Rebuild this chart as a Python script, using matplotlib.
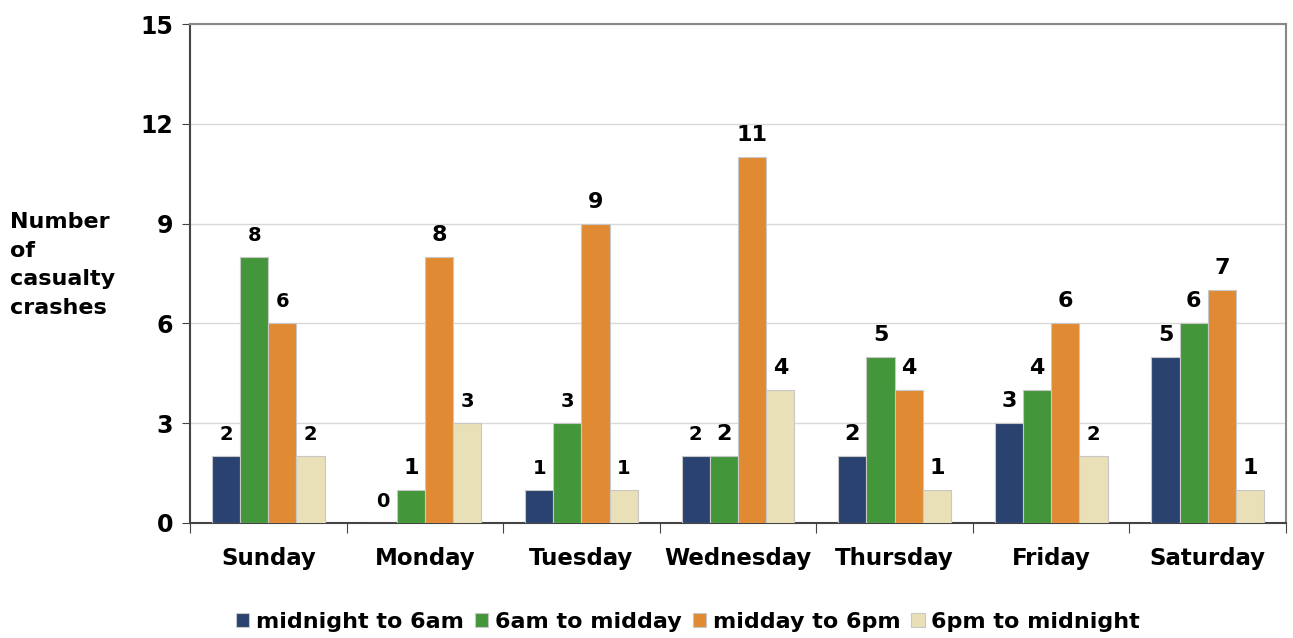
import numpy as np
import matplotlib.pyplot as plt

days = ['Sunday', 'Monday', 'Tuesday', 'Wednesday', 'Thursday', 'Friday', 'Saturday']
series = ['midnight to 6am', '6am to midday', 'midday to 6pm', '6pm to midnight']
night = [2, 0, 1, 2, 2, 3, 5]
morning = [8, 1, 3, 2, 5, 4, 6]
afternoon = [6, 8, 9, 11, 4, 6, 7]
evening = [2, 3, 1, 4, 1, 2, 1]
# some labels were drawn bigger in the original
big = [[0, 0, 0, 0, 1, 1, 1],
       [0, 1, 0, 1, 1, 1, 1],
       [0, 1, 1, 1, 1, 1, 1],
       [0, 0, 0, 1, 1, 0, 1]]

colors = ['#2a4270', '#43973a', '#e08a33', '#e9e0b8']

plt.rcParams['font.family'] = ['DejaVu Sans']
plt.rcParams['font.weight'] = 'bold'

fig = plt.figure(figsize=(12.93, 6.38), dpi=100)
ax = fig.add_axes([190/1293, 1-523/638, (1286-190)/1293, (523-24)/638])

x = np.arange(len(days))
w = 0.18
for k, vals in enumerate([night, morning, afternoon, evening]):
    pos = x + (k - 1.5) * w
    ax.bar(pos, vals, w, color=colors[k], edgecolor='#c8c8c8', linewidth=0.8,
           label=series[k], zorder=3)
    for p, v, b in zip(pos, vals, big[k]):
        ax.text(p, v + 0.48, str(v), ha='center', va='baseline',
                fontsize=16 if b else 14, fontweight='bold')

ax.set_xlim(-0.5, 6.5)
ax.set_ylim(0, 15)
ax.set_yticks([0, 3, 6, 9, 12, 15])
ax.yaxis.grid(True, color='#d9d9d9', linewidth=1, zorder=0)
ax.tick_params(axis='y', labelsize=17, length=6, color='#444444', pad=6)
ax.set_xticks(np.arange(-0.5, 7, 1))
ax.set_xticklabels([])
ax.set_xticks(x, minor=True)
ax.set_xticklabels(days, minor=True, fontsize=16.5, fontweight='bold')
ax.tick_params(axis='x', which='major', length=7, color='#444444')
ax.tick_params(axis='x', which='minor', length=0, pad=17)
for s in ['left', 'bottom']:
    ax.spines[s].set_color('#444444')
    ax.spines[s].set_linewidth(1.5)
for s in ['top', 'right']:
    ax.spines[s].set_color('#888888')
    ax.spines[s].set_linewidth(1.5)

fig.text(10/1293, 1-265/638, 'Number\nof\ncasualty\ncrashes', ha='left', va='center',
         fontsize=16, fontweight='bold', linespacing=1.55)

fig.legend(loc='center', bbox_to_anchor=(688/1293, 1-622/638), ncol=4, frameon=False,
           fontsize=16, handlelength=0.6, handleheight=0.6, handletextpad=0.3,
           columnspacing=0.5, borderaxespad=0)

fig.savefig('out.png', dpi=100)
